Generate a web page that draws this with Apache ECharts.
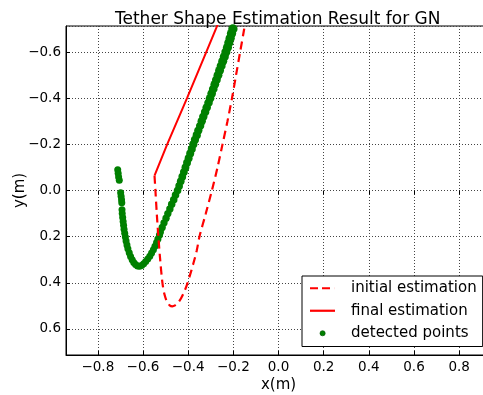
<!DOCTYPE html>
<html>
<head>
<meta charset="utf-8">
<script src="https://cdn.jsdelivr.net/npm/echarts@6/dist/echarts.min.js"></script>
<style>
  html, body { margin: 0; padding: 0; background: #fff; }
  #main { width: 483px; height: 395px; }
</style>
</head>
<body>
<div id="main"></div>
<script>
// 数据 (x, y) in metres
var initialEst = [
    [-0.549, -0.064], [-0.545, 0.0], [-0.539, 0.1], [-0.532, 0.2], [-0.524, 0.3],
    [-0.514, 0.4], [-0.505, 0.45], [-0.494, 0.482], [-0.482, 0.498], [-0.470, 0.502],
    [-0.458, 0.498], [-0.446, 0.488], [-0.432, 0.468], [-0.418, 0.44], [-0.406, 0.41],
    [-0.393, 0.37], [-0.378, 0.32], [-0.362, 0.26], [-0.350, 0.2], [-0.322, 0.1],
    [-0.295, 0.0], [-0.270, -0.1], [-0.248, -0.2], [-0.226, -0.3], [-0.206, -0.4],
    [-0.188, -0.5], [-0.170, -0.6], [-0.152, -0.7], [-0.144, -0.75]
];
var finalEst = [
    [-0.549, -0.064], [-0.493, -0.2], [-0.405, -0.4], [-0.320, -0.6], [-0.252, -0.76]
];
var detectedPts = [
    // upper left dashes
    [-0.712, -0.090], [-0.710, -0.075], [-0.708, -0.059], [-0.705, -0.044],
    [-0.699, 0.010], [-0.697, 0.025], [-0.695, 0.040], [-0.694, 0.053],
    // lower bend
    [-0.693, 0.083], [-0.692, 0.100], [-0.690, 0.117], [-0.688, 0.134], [-0.686, 0.151],
    [-0.684, 0.168], [-0.681, 0.185], [-0.678, 0.202], [-0.675, 0.219], [-0.671, 0.236],
    [-0.667, 0.253], [-0.661, 0.270], [-0.655, 0.286], [-0.648, 0.300], [-0.641, 0.312],
    [-0.633, 0.321], [-0.624, 0.327], [-0.615, 0.328], [-0.606, 0.325], [-0.597, 0.318],
    [-0.588, 0.308], [-0.579, 0.297], [-0.570, 0.285], [-0.562, 0.271], [-0.554, 0.257],
    [-0.547, 0.242], [-0.540, 0.226], [-0.534, 0.210],
    // right arm
    [-0.527, 0.193], [-0.523, 0.18], [-0.515, 0.16], [-0.507, 0.14], [-0.498, 0.12],
    [-0.490, 0.10], [-0.481, 0.08], [-0.473, 0.06], [-0.464, 0.04], [-0.456, 0.02],
    [-0.447, 0.00], [-0.440, -0.02], [-0.433, -0.04], [-0.426, -0.06], [-0.419, -0.08],
    [-0.412, -0.10], [-0.405, -0.12], [-0.398, -0.14], [-0.391, -0.16], [-0.384, -0.18],
    [-0.377, -0.20], [-0.370, -0.22], [-0.362, -0.24], [-0.355, -0.26], [-0.347, -0.28],
    [-0.340, -0.30], [-0.333, -0.32], [-0.325, -0.34], [-0.318, -0.36], [-0.310, -0.38],
    [-0.303, -0.40], [-0.296, -0.42], [-0.289, -0.44], [-0.282, -0.46], [-0.275, -0.48],
    [-0.268, -0.50], [-0.261, -0.52], [-0.254, -0.54], [-0.247, -0.56], [-0.240, -0.58],
    [-0.233, -0.60], [-0.226, -0.62], [-0.220, -0.64], [-0.214, -0.66], [-0.208, -0.68],
    [-0.202, -0.70], [-0.196, -0.72]
];
var seriesNames = ['initial estimation', 'final estimation', 'detected points'];

var FONT = 'DejaVu Sans';
var fmt = function (v) {
    return (v < -1e-9 ? '\u2212' : '') + Math.abs(v).toFixed(1);
};
// 图例图标
var dashIcon = 'path://M0,0 H8 V2.2 H0 Z M12,0 H20 V2.2 H12 Z M24.9,0 H25 V2.2 H24.9 Z';
var lineIcon = 'path://M0,0 H25 V2.2 H0 Z';
var dotIcon = 'image://data:image/svg+xml;charset=utf-8,' + encodeURIComponent(
    '<svg xmlns="http://www.w3.org/2000/svg" width="25" height="14">' +
    '<circle cx="12.6" cy="7" r="2.6" fill="#008000" stroke="#005000" stroke-width="0.6"/></svg>');

var gridLine = { show: true, lineStyle: { color: '#444', width: 1, type: [1, 2] } };

var chart = echarts.init(document.getElementById('main'));
var option = {
    animation: false,
    title: {
        text: 'Tether Shape Estimation Result for GN',
        left: 110,
        top: 6,
        textStyle: { fontFamily: FONT, fontSize: 17, fontWeight: 'normal', color: '#000' }
    },
    legend: {
        orient: 'vertical',
        left: 302,
        top: 276,
        padding: [4, 6, 5, 8],
        borderColor: '#000',
        borderWidth: 1,
        borderRadius: 0,
        backgroundColor: '#fff',
        itemWidth: 25,
        itemHeight: 14,
        itemGap: 6,
        textStyle: { fontFamily: FONT, fontSize: 15, color: '#000', lineHeight: 16.5, padding: [0, 0, 0, 11] },
        data: [
            { name: seriesNames[0], icon: dashIcon },
            { name: seriesNames[1], icon: lineIcon },
            { name: seriesNames[2], icon: dotIcon }
        ]
    },
    grid: {
        left: 66, top: 26, right: -8, bottom: 40,
        containLabel: false,
        outerBoundsMode: 'none',
        show: true, borderColor: '#000', borderWidth: 1
    },
    xAxis: [{
        type: 'value',
        min: -0.941, max: 0.941,
        minInterval: 0.2, maxInterval: 0.2, splitNumber: 9,
        name: 'x(m)', nameLocation: 'middle', nameGap: 23, nameMoveOverlap: false,
        nameTextStyle: { fontFamily: FONT, fontSize: 15, color: '#000' },
        axisLine: { show: true, onZero: false, lineStyle: { color: '#000' } },
        axisTick: { show: true, inside: true, length: 4, lineStyle: { color: '#000' } },
        axisLabel: {
            fontFamily: FONT, fontSize: 13.5, color: '#000', margin: 5,
            showMinLabel: false, showMaxLabel: false, formatter: fmt
        },
        splitLine: gridLine
    }, {
        type: 'value', position: 'top',
        min: -0.941, max: 0.941,
        minInterval: 0.2, maxInterval: 0.2, splitNumber: 9,
        axisLine: { show: false },
        axisTick: { show: true, inside: true, length: 4, lineStyle: { color: '#000' } },
        axisLabel: { show: false },
        splitLine: { show: false }
    }],
    yAxis: [{
        type: 'value',
        inverse: true,
        min: -0.713, max: 0.713,
        minInterval: 0.2, maxInterval: 0.2, splitNumber: 7,
        name: 'y(m)', nameLocation: 'middle', nameGap: 38, nameMoveOverlap: false,
        nameTextStyle: { fontFamily: FONT, fontSize: 15, color: '#000' },
        axisLine: { show: true, onZero: false, lineStyle: { color: '#000' } },
        axisTick: { show: true, inside: true, length: 4, lineStyle: { color: '#000' } },
        axisLabel: {
            fontFamily: FONT, fontSize: 13.5, color: '#000', margin: 5,
            showMinLabel: false, showMaxLabel: false, formatter: fmt
        },
        splitLine: gridLine
    }],
    series: [{
        name: seriesNames[0],
        type: 'line',
        z: 3,
        data: initialEst,
        smooth: 0.3,
        showSymbol: false,
        symbol: 'none',
        color: '#ff0000',
        lineStyle: { color: '#ff0000', width: 2.2, type: [8, 5] }
    }, {
        name: seriesNames[1],
        type: 'line',
        z: 3,
        data: finalEst,
        showSymbol: false,
        symbol: 'none',
        color: '#ff0000',
        lineStyle: { color: '#ff0000', width: 2 }
    }, {
        name: seriesNames[2],
        type: 'scatter',
        z: 2,
        data: detectedPts,
        // 右侧分支点更密, 看起来更粗
        symbolSize: function (d) {
            return (d[0] > -0.6 && d[1] < 0.25) ? 7 + (0.25 - d[1]) * 2.5 : 7;
        },
        itemStyle: { color: '#008000', opacity: 1 }
    }]
};
chart.setOption(option);
</script>
</body>
</html>
